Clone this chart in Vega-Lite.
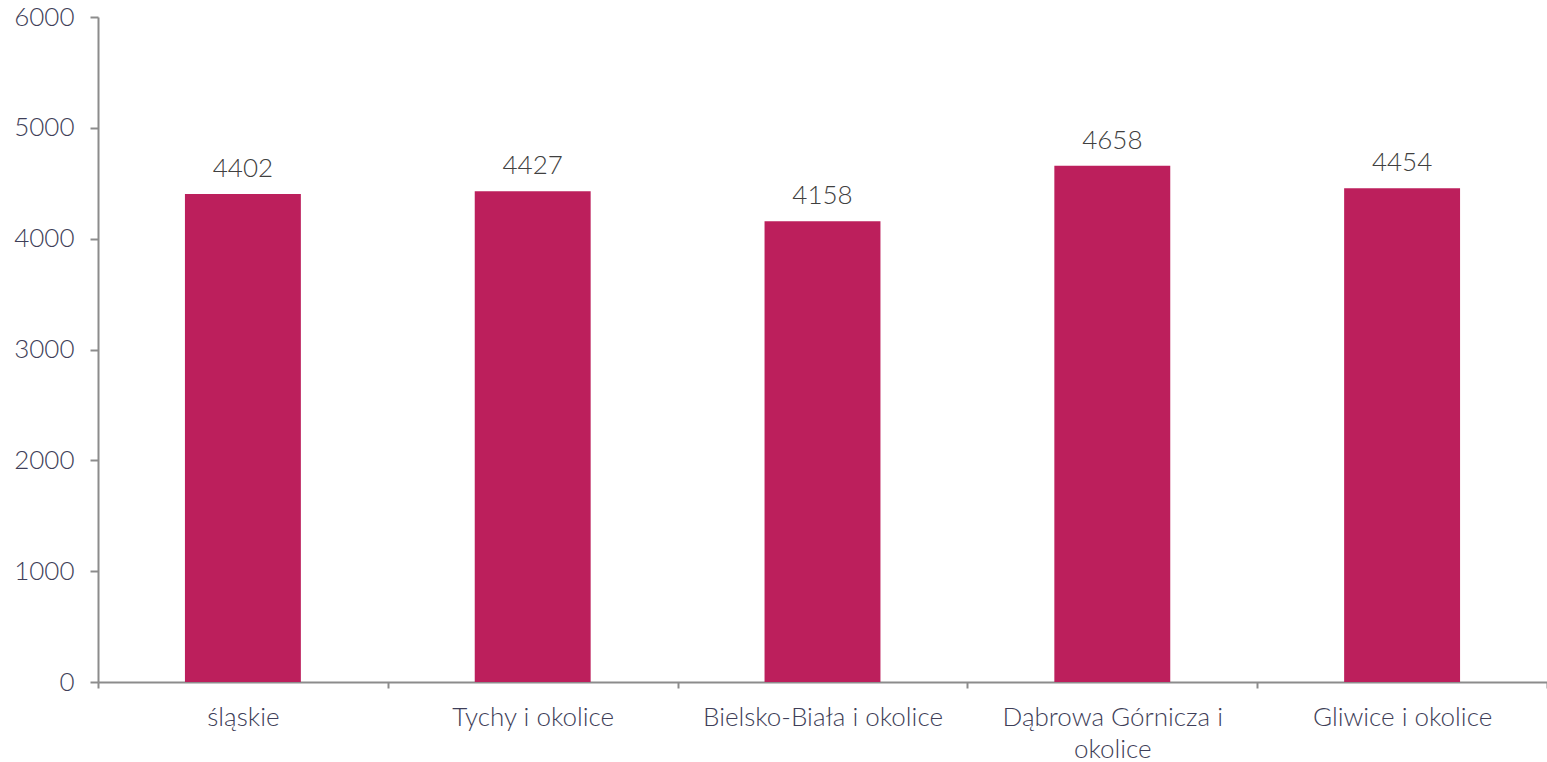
{
  "$schema": "https://vega.github.io/schema/vega-lite/v6.json",
  "autosize": {"type": "none"},
  "width": 1449,
  "height": 665,
  "padding": {"left": 98, "top": 17, "right": 0, "bottom": 80},
  "background": "white",
  "config": {"view": {"stroke": null}, "font": "Lato"},
  "data": {"values": [
    {"region": "śląskie", "value": 4402},
    {"region": "Tychy i okolice", "value": 4427},
    {"region": "Bielsko-Biała i okolice", "value": 4158},
    {"region": "Dąbrowa Górnicza i okolice", "value": 4658},
    {"region": "Gliwice i okolice", "value": 4454}
  ]},
  "encoding": {
    "x": {
      "field": "region", "type": "nominal", "sort": null,
      "scale": {"paddingInner": 0, "paddingOuter": 0},
      "axis": {
        "title": null, "labelAngle": 0, "tickBand": "extent", "labelLimit": 0,
        "domainColor": "#8c8c8c", "domainWidth": 2, "tickColor": "#8c8c8c", "tickWidth": 2, "tickSize": 6,
        "labelFont": "Lato", "labelFontWeight": 300, "labelFontSize": 26, "labelColor": "#3e3e58",
        "labelPadding": 16, "labelLineHeight": 32,
        "labelExpr": "datum.label == 'Dąbrowa Górnicza i okolice' ? ['Dąbrowa Górnicza i', 'okolice'] : datum.label"
      }
    },
    "y": {
      "field": "value", "type": "quantitative",
      "scale": {"domain": [0, 6000], "nice": false},
      "axis": {
        "title": null, "grid": false, "values": [0, 1000, 2000, 3000, 4000, 5000, 6000], "format": "d",
        "domainColor": "#8c8c8c", "domainWidth": 2, "tickColor": "#8c8c8c", "tickWidth": 2, "tickSize": 8,
        "labelFont": "Lato", "labelFontWeight": 300, "labelFontSize": 26, "labelColor": "#3e3e58",
        "labelPadding": 16
      }
    }
  },
  "layer": [
    {"mark": {"type": "bar", "color": "#BC1F5C", "width": {"band": 0.4}}},
    {"mark": {"type": "text", "baseline": "bottom", "dy": -12, "font": "Lato", "fontWeight": 300, "fontSize": 26, "color": "#404040"},
     "encoding": {"text": {"field": "value", "type": "quantitative", "format": "d"}}}
  ]
}
